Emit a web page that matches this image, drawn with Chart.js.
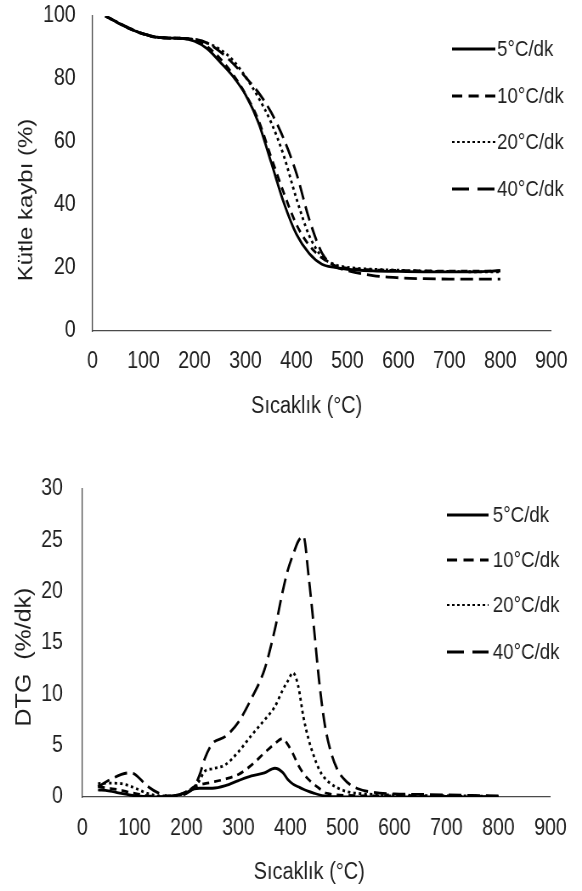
<!DOCTYPE html>
<html lang="tr">
<head>
<meta charset="UTF-8">
<title>TG ve DTG eğrileri</title>
<script src="https://cdn.jsdelivr.net/npm/chart.js"></script>
<style>
  body { margin: 0; background: #fff; }
  canvas { display: block; }
</style>
</head>
<body>
<!-- tuval yatayda 685 px çizilip 582 px'e sıkıştırılıyor (orijinaldeki dar yazı görünümü) -->
<canvas id="tgGrafik" width="685" height="445" style="width:582px;height:445px"></canvas>
<canvas id="dtgGrafik" width="685" height="446" style="width:582px;height:446px"></canvas>
<script>
// --- veriler (grafikten okunan yaklaşık değerler) ---
const isitmaHizlari = ['5°C/dk', '10°C/dk', '20°C/dk', '40°C/dk'];

const xTikleri = [0, 900, 100];      // min, max, adım
const tgTikleri = [0, 100, 20];
const dtgTikleri = [0, 30, 5];

const sicaklikTG = [25, 50, 75, 100, 125, 150, 175, 200, 225, 250, 275, 300, 325,
                    350, 375, 400, 425, 450, 475, 500, 550, 600, 650, 700, 750, 800];
const tg5  = [100, 97.8, 95.8, 94.3, 93.3, 93.0, 92.9, 92.0, 89.6, 85.4, 80.9, 75.0, 66.3,
              53.7, 40.8, 30.7, 24.6, 21.2, 20.2, 19.6, 19.1, 18.9, 18.8, 18.8, 18.8, 19.2];
const tg10 = [100, 97.8, 95.8, 94.2, 93.2, 93.0, 92.9, 92.4, 90.3, 86.5, 81.5, 75.2, 67.1,
              55.3, 43.9, 33.8, 27.2, 23.2, 20.8, 19.9, 19.4, 19.2, 19.1, 19.0, 19.0, 19.0];
const tg20 = [100, 97.9, 95.9, 94.3, 93.3, 93.0, 92.9, 92.5, 91.4, 89.4, 86.0, 80.7, 74.2,
              66.3, 55.7, 42.0, 30.3, 23.6, 21.1, 20.2, 19.6, 19.3, 19.0, 18.9, 18.8, 18.8];
const tg40 = [100, 97.9, 95.9, 94.3, 93.3, 93.0, 92.9, 92.6, 91.4, 88.7, 85.0, 80.6, 75.8,
              69.5, 61.0, 50.0, 35.5, 24.8, 20.6, 19.2, 17.6, 16.9, 16.6, 16.5, 16.5, 16.5];

const sicaklikDTG = [30, 50, 75, 90, 100, 125, 150, 175, 200, 215, 225, 235, 250, 275, 300,
                     325, 350, 370, 385, 395, 405, 415, 425, 435, 445, 455, 465, 475, 490,
                     510, 530, 560, 600, 650, 700, 750, 800];
const dtg5  = [0.7, 0.6, 0.35, 0.2, 0.12, 0.03, 0.0, 0.1, 0.45, 0.8, 0.85, 0.85, 0.85, 1.1, 1.6,
               2.05, 2.35, 2.8, 2.4, 1.7, 1.25, 1.0, 0.75, 0.55, 0.38, 0.22, 0.1, 0.05, 0.02,
               0, 0, 0, 0, 0, 0, 0, 0];
const dtg10 = [1.0, 0.85, 0.65, 0.45, 0.35, 0.12, 0.03, 0.1, 0.5, 1.0, 1.2, 1.3, 1.45, 1.75, 2.2,
               3.1, 4.3, 5.2, 5.7, 5.1, 4.2, 3.1, 2.3, 1.7, 1.25, 0.85, 0.45, 0.3, 0.2,
               0.15, 0.12, 0.1, 0.1, 0.08, 0.06, 0.05, 0.03];
const dtg20 = [1.3, 1.35, 1.3, 1.1, 0.9, 0.35, 0.1, 0.1, 0.5, 1.0, 1.6, 2.5, 2.75, 3.15, 4.4,
               6.0, 7.5, 8.8, 10.4, 11.3, 12.1, 10.8, 7.8, 5.6, 4.0, 2.7, 1.9, 1.4, 0.9,
               0.5, 0.35, 0.25, 0.2, 0.15, 0.12, 0.1, 0.05];
const dtg40 = [1.0, 1.6, 2.2, 2.35, 2.25, 1.05, 0.3, 0.05, 0.35, 1.0, 2.1, 3.7, 5.2, 5.9, 7.3,
               9.6, 12.4, 16.3, 20.0, 22.1, 23.6, 24.9, 25.4, 21.5, 16.6, 11.4, 7.4, 4.9, 2.7,
               1.4, 0.8, 0.45, 0.3, 0.25, 0.2, 0.15, 0.1];

// --- stil ---
const yaziTipi = "'Liberation Sans', Arial, sans-serif";
const metinRengi = '#1e1e1e';
const eksenRengi = '#4a4a4a';
const cizgiTipleri = [[], [8, 6], [3, 3.5], [15, 7]];
const lejantTipleri = [[], [12, 7.5], [3, 3], [20, 10]];

function noktalar(xs, ys) {
  return xs.map((x, i) => ({ x: x, y: ys[i] }));
}

function veriSetleri(xs, seriler) {
  return seriler.map((ys, i) => ({
    label: isitmaHizlari[i],
    data: noktalar(xs, ys),
    borderColor: '#000',
    borderWidth: 2.8,
    borderDash: cizgiTipleri[i],
    pointRadius: 0,
    fill: false,
    cubicInterpolationMode: 'monotone'
  }));
}

// eksen başlıkları ve lejant
const yaziEklentisi = {
  id: 'yazilar',
  afterDraw(chart, args, o) {
    const ctx = chart.ctx;
    ctx.save();
    ctx.fillStyle = metinRengi;
    ctx.textBaseline = 'middle';

    ctx.textAlign = 'center';
    ctx.font = '23.5px ' + yaziTipi;
    ctx.fillText(o.xBaslik, o.xBaslikX, o.xBaslikY);

    ctx.save();
    ctx.translate(o.yBaslikX, o.yBaslikY);
    ctx.rotate(-Math.PI / 2);
    ctx.font = o.yBoyut + 'px ' + yaziTipi;
    ctx.fillText(o.yBaslik, 0, 0);
    ctx.restore();

    ctx.font = '22px ' + yaziTipi;
    ctx.textAlign = 'left';
    chart.data.datasets.forEach((ds, i) => {
      const y = o.lejantY[i];
      ctx.strokeStyle = ds.borderColor;
      ctx.lineWidth = i === 2 ? 2 : 3;
      ctx.setLineDash(lejantTipleri[i]);
      ctx.beginPath();
      ctx.moveTo(o.lejantX0, y);
      ctx.lineTo(o.lejantX1, y);
      ctx.stroke();
      ctx.fillText(ds.label, o.lejantMetinX, y + 1);
    });
    ctx.restore();
  }
};

function ayarlar(a) {
  const tikFont = { family: yaziTipi, size: 23 };
  return {
    responsive: false,
    animation: false,
    events: [],
    layout: { padding: { left: 0, right: a.sag, top: a.ust, bottom: 0 } },
    plugins: { legend: { display: false }, tooltip: { enabled: false }, yazilar: a.yazilar },
    scales: {
      x: {
        type: 'linear',
        min: xTikleri[0], max: xTikleri[1],
        ticks: { stepSize: xTikleri[2], padding: a.xPad, font: tikFont, color: metinRengi, maxRotation: 0 },
        grid: { display: false, drawTicks: false },
        border: { color: eksenRengi, width: 1.3 },
        afterFit: s => { s.height = a.xYukseklik; }
      },
      y: {
        min: a.yTik[0], max: a.yTik[1],
        ticks: { stepSize: a.yTik[2], padding: a.yPad, font: tikFont, color: metinRengi },
        grid: { display: false, drawTicks: false },
        border: { color: eksenRengi, width: 1.3 },
        afterFit: s => {
          s.width = a.yGenislik;
          // etiket boşluğu grafik alanını aşağı itmesin
          s.paddingTop = 12;
          s.paddingBottom = 12;
        }
      }
    }
  };
}

new Chart(document.getElementById('tgGrafik'), {
  type: 'line',
  data: { datasets: veriSetleri(sicaklikTG, [tg5, tg10, tg20, tg40]) },
  options: ayarlar({
    sag: 26, ust: 16, xYukseklik: 114, yGenislik: 109, xPad: 17, yPad: 20, yTik: tgTikleri,
    yazilar: {
      xBaslik: 'Sıcaklık (°C)', xBaslikX: 361, xBaslikY: 407,
      yBaslik: 'Kütle kaybı (%)', yBaslikX: 31, yBaslikY: 200, yBoyut: 24,
      lejantX0: 532, lejantX1: 583, lejantMetinX: 585, lejantY: [49, 96, 142, 189]
    }
  }),
  plugins: [yaziEklentisi]
});

new Chart(document.getElementById('dtgGrafik'), {
  type: 'line',
  data: { datasets: veriSetleri(sicaklikDTG, [dtg5, dtg10, dtg20, dtg40]) },
  options: ayarlar({
    sag: 28, ust: 44, xYukseklik: 94, yGenislik: 97, xPad: 18, yPad: 23, yTik: dtgTikleri,
    yazilar: {
      xBaslik: 'Sıcaklık (°C)', xBaslikX: 364, xBaslikY: 428,
      yBaslik: 'DTG  (%/dk)', yBaslikX: 29, yBaslikY: 212, yBoyut: 25,
      lejantX0: 526, lejantX1: 575, lejantMetinX: 580, lejantY: [70, 115, 160, 207]
    }
  }),
  plugins: [yaziEklentisi]
});
</script>
</body>
</html>
